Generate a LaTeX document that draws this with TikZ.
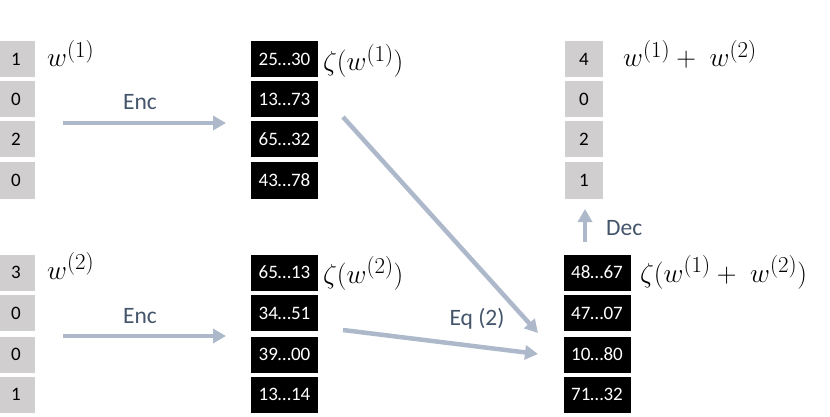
\documentclass[tikz,border=0pt]{standalone}
\usepackage{fontspec}
\usepackage{graphicx}
\setmainfont{Carlito}
\usetikzlibrary{arrows.meta}
\definecolor{boxgrey}{HTML}{D0CECE}
\definecolor{arrowblue}{HTML}{ADB9CA}
\definecolor{labelslate}{HTML}{44546A}
\newcommand{\bigmath}[1]{\scalebox{1.1}{\fontsize{24.88}{30}\selectfont$#1$}}
\tikzset{
  greybox/.style={fill=boxgrey, minimum width=38pt, minimum height=36pt, inner sep=0pt,
    font=\fontsize{19}{22}\selectfont, text=black},
  blackbox/.style={fill=black, minimum width=67pt, minimum height=36pt, inner sep=0pt,
    font=\fontsize{19}{22}\selectfont, text=white},
  mathlabel/.style={anchor=base west, inner sep=0pt},
  steplabel/.style={inner sep=0pt, text=labelslate, font=\fontsize{23.5}{28}\selectfont},
  flowarrow/.style={draw=arrowblue, line width=4.5pt, -{Triangle[length=13pt,width=14pt]}},
}
\begin{document}
\begin{tikzpicture}[x=1pt,y=-1pt]
\useasboundingbox (0,0) rectangle (830,417);
% left column, top vector
\node[greybox] (a1) at (16,59.5) {1};
\node[greybox] (a2) at (16,99.5) {0};
\node[greybox] (a3) at (16,139.5) {2};
\node[greybox] (a4) at (16,180.5) {0};
\node[mathlabel] (la) at (47,67) {\bigmath{w^{(1)}}};
% left column, bottom vector
\node[greybox] (b1) at (16,272.5) {3};
\node[greybox] (b2) at (16,313) {0};
\node[greybox] (b3) at (16,354.5) {0};
\node[greybox] (b4) at (16,394.5) {1};
\node[mathlabel] (lb) at (47,279) {\bigmath{w^{(2)}}};
% middle column, top encrypted
\node[blackbox] (c1) at (284.5,59.5) {25…30};
\node[blackbox] (c2) at (284.5,99.5) {13…73};
\node[blackbox] (c3) at (284.5,139.5) {65…32};
\node[blackbox] (c4) at (284.5,180.5) {43…78};
\node[mathlabel] (lc) at (323,71) {\bigmath{\zeta(w^{(1)})}};
% middle column, bottom encrypted
\node[blackbox] (d1) at (284.5,272.5) {65…13};
\node[blackbox] (d2) at (284.5,313) {34…51};
\node[blackbox] (d3) at (284.5,354.5) {39…00};
\node[blackbox] (d4) at (284.5,394.5) {13…14};
\node[mathlabel] (ld) at (323,283) {\bigmath{\zeta(w^{(2)})}};
% right column, decrypted sum
\node[greybox] (e1) at (584,59.5) {4};
\node[greybox] (e2) at (584,99.5) {0};
\node[greybox] (e3) at (584,139.5) {2};
\node[greybox] (e4) at (584,180.5) {1};
\node[mathlabel] (le) at (623,67) {\bigmath{w^{(1)}+\;w^{(2)}}};
% right column, encrypted sum
\node[blackbox] (f1) at (597,272.5) {48…67};
\node[blackbox] (f2) at (597,313) {47…07};
\node[blackbox] (f3) at (597,354.5) {10…80};
\node[blackbox] (f4) at (597,394.5) {71…32};
\node[mathlabel] (lf) at (640,282) {\bigmath{\zeta(w^{(1)}+\;w^{(2)})}};
% arrow end points
\coordinate (enc1s) at (63,123);
\coordinate (enc1e) at (226,123);
\coordinate (enc2s) at (63,336);
\coordinate (enc2e) at (226,336);
\coordinate (eqas) at (343,117);
\coordinate (eqae) at (538,333);
\coordinate (eqbs) at (343,330);
\coordinate (eqbe) at (538,354);
\coordinate (decs) at (585,242);
\coordinate (dece) at (585,209);
% arrows
\draw[flowarrow] (enc1s) -- (enc1e);
\draw[flowarrow] (enc2s) -- (enc2e);
\draw[flowarrow] (eqas) -- (eqae);
\draw[flowarrow] (eqbs) -- (eqbe);
\draw[flowarrow] (decs) -- (dece);
% step labels
\node[steplabel] (encl1) at (140,102) {Enc};
\node[steplabel] (encl2) at (140,316) {Enc};
\node[steplabel] (eql) at (477,319) {Eq (2)};
\node[steplabel, anchor=west] (decl) at (606,228) {Dec};
\end{tikzpicture}
\end{document}
